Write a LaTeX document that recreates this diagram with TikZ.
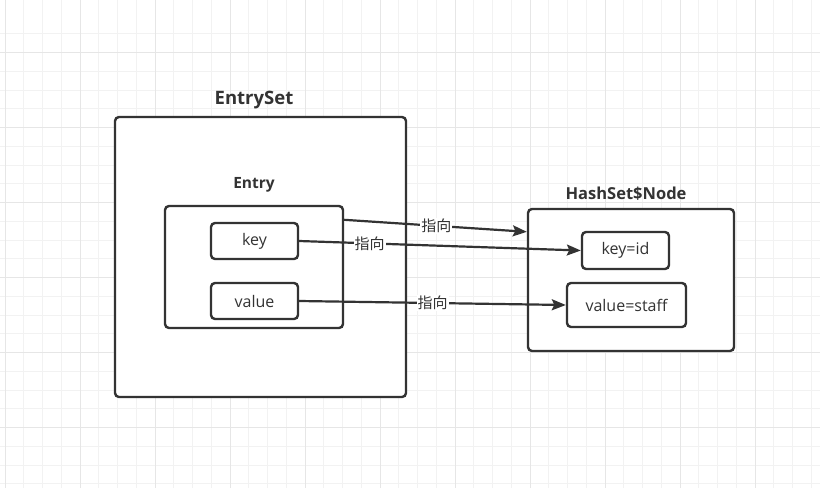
\documentclass[tikz,border=0pt]{standalone}
\usepackage{fontspec}
\setmainfont{Open Sans}
\newfontfamily\cjk{Noto Sans CJK SC}
\usetikzlibrary{arrows.meta}
\definecolor{ink}{HTML}{333333}
\definecolor{gridminor}{HTML}{F2F2F2}
\definecolor{gridmajor}{HTML}{E6E6E6}
\tikzset{
  box/.style={draw=ink, line width=2.4pt, rounded corners=4pt, fill=white, inner sep=0pt, text=ink},
  title/.style={font=\bfseries, text=ink, inner sep=0pt},
  conn/.style={draw=ink, line width=2.2pt, -{Stealth[length=14pt,width=11pt,inset=2.5pt]}},
  lbl/.style={fill=white, text=ink, inner sep=1pt, font=\cjk\fontsize{15}{17}\selectfont},
}
\begin{document}
\begin{tikzpicture}[x=1pt,y=-1pt]
\useasboundingbox (0,0) rectangle (820,488);
\fill[white] (0,0) rectangle (820,488);
\begin{scope}
\clip (0,0) rectangle (820,488);
\foreach \i in {0,...,43} {
  \draw[gridminor, line width=1pt] ({5+\i*18.75},0) -- ({5+\i*18.75},488);
}
\foreach \j in {-1,...,26} {
  \draw[gridminor, line width=1pt] (0,{52.5+\j*18.75}) -- (820,{52.5+\j*18.75});
}
\foreach \i in {0,...,10} {
  \draw[gridmajor, line width=1pt] ({5+\i*75},0) -- ({5+\i*75},488);
}
\foreach \j in {-1,...,6} {
  \draw[gridmajor, line width=1pt] (0,{52.5+\j*75}) -- (820,{52.5+\j*75});
}
\end{scope}

% EntrySet
\node[box, minimum width=291pt, minimum height=280pt] (es) at (260.5,257) {};
\node[title, font=\bfseries\fontsize{18.5}{20}\selectfont] (estitle) at (254,100) {EntrySet};
\node[box, minimum width=178pt, minimum height=122pt] (entry) at (254,267) {};
\node[title, font=\bfseries\fontsize{15.5}{18}\selectfont] (entrytitle) at (254,185) {Entry};
\node[box, minimum width=87pt, minimum height=36pt, font=\fontsize{16}{18}\selectfont] (key) at (254.5,241) {key};
\node[box, minimum width=87pt, minimum height=36pt, font=\fontsize{16}{18}\selectfont] (value) at (254.5,301) {value};

% HashSet$Node
\node[box, minimum width=206pt, minimum height=142pt] (hs) at (631,280) {};
\node[title, font=\bfseries\fontsize{16.5}{18}\selectfont] (hstitle) at (626,194) {HashSet\$Node};
\node[box, minimum width=87pt, minimum height=37pt, font=\fontsize{16}{18}\selectfont] (keyid) at (625.5,250.5) {key=id};
\node[box, minimum width=119pt, minimum height=44pt, font=\fontsize{16}{18}\selectfont] (vs) at (626.5,305) {value=staff};

% connectors
\draw[conn] ([yshift=-15pt]entry.north east) -- node[lbl, pos=0.505] {指向} ([yshift=-24pt]hs.north west);
\draw[conn] (key.east) -- node[lbl, pos=0.25] {指向} (keyid.west);
\draw[conn] (value.east) -- node[lbl, pos=0.5] {指向} (vs.west);
\end{tikzpicture}
\end{document}
